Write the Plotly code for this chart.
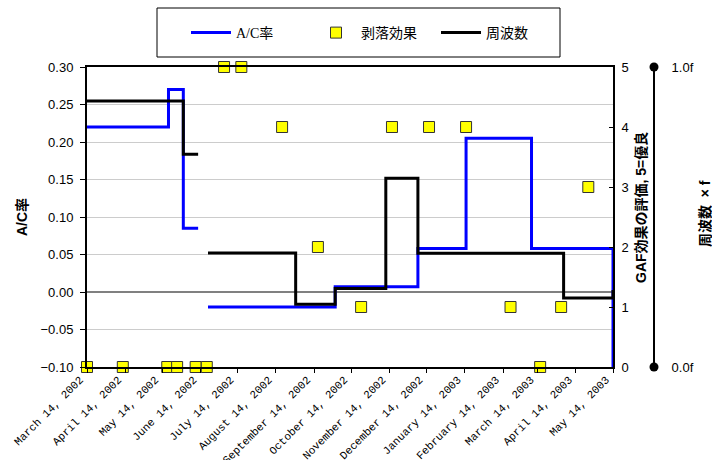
import plotly.graph_objects as go

# ---- data ----
ac_dates = ["2002-03-14", "2002-05-19", "2002-05-31", "2002-06-12", None,
            "2002-06-20", "2002-10-01", "2002-12-07", "2003-01-15", "2003-03-09",
            "2003-05-14", "2003-05-14"]
ac_rate = [0.22, 0.27, 0.085, 0.085, None,
           -0.02, 0.007, 0.058, 0.205, 0.058, 0.058, -0.10]

freq_dates = ["2002-03-14", "2002-05-31", "2002-06-12", None,
              "2002-06-20", "2002-08-30", "2002-10-01", "2002-11-11", "2002-12-07",
              "2003-04-04", "2003-05-14", "2003-05-14"]
freq = [0.887, 0.709, 0.709, None,
        0.38, 0.209, 0.262, 0.629, 0.379, 0.23, 0.23, 0.257]

spall_dates = ["2002-03-14", "2002-04-12", "2002-05-18", "2002-05-26", "2002-06-10",
               "2002-06-19", "2002-07-03", "2002-07-17", "2002-08-19", "2002-09-17",
               "2002-10-22", "2002-11-16", "2002-12-16", "2003-01-15", "2003-02-20",
               "2003-03-16", "2003-04-02", "2003-04-24"]
spall_score = [0, 0, 0, 0, 0, 0, 5, 5, 4, 2, 1, 4, 4, 4, 1, 0, 1, 3]

tick_dates = ["2002-03-14", "2002-04-14", "2002-05-14", "2002-06-14", "2002-07-14",
              "2002-08-14", "2002-09-14", "2002-10-14", "2002-11-14", "2002-12-14",
              "2003-01-14", "2003-02-14", "2003-03-14", "2003-04-14", "2003-05-14"]
tick_labels = ["March 14, 2002", "April 14, 2002", "May 14, 2002", "June 14, 2002",
               "July 14, 2002", "August 14, 2002", "September 14, 2002",
               "October 14, 2002", "November 14, 2002", "December 14, 2002",
               "January 14, 2003", "February 14, 2003", "March 14, 2003",
               "April 14, 2003", "May 14, 2003"]

# ---- geometry ----
W, H = 712, 460
L, T, B = 87, 67, 93
paper_w = W - L          # right margin 0
plot_w = 613 - L
xdom = plot_w / paper_w
def px(x):
    return (x - L) / paper_w
def py(y):
    return (367 - y) / 300
ax3_pos = px(654)

sans = "Liberation Sans, Arial, Noto Sans CJK JP"
cjk = "Liberation Sans, Noto Sans CJK JP"

fig = go.Figure()
fig.add_trace(go.Scatter(x=ac_dates, y=ac_rate, name="A/C率", mode="lines",
                         line=dict(color="#0000ff", width=3, shape="hv"),
                         connectgaps=False, yaxis="y", legendrank=1))
fig.add_trace(go.Scatter(x=freq_dates, y=freq, name="周波数", mode="lines",
                         line=dict(color="#000000", width=3, shape="hv"),
                         connectgaps=False, yaxis="y3", legendrank=3))
fig.add_trace(go.Scatter(x=spall_dates, y=spall_score, name="剥落効果", mode="markers",
                         marker=dict(symbol="square", size=11, color="#ffff00",
                                     line=dict(color="#333333", width=1)),
                         yaxis="y2", cliponaxis=False, legendrank=2))

fig.update_layout(
    width=W, height=H,
    margin=dict(l=L, r=0, t=T, b=B, autoexpand=False),
    paper_bgcolor="white", plot_bgcolor="white",
    font=dict(family=sans, size=12, color="black"),
    showlegend=True,
    legend=dict(orientation="h", x=px(186), xanchor="left", y=py(33),
                yanchor="middle", borderwidth=0, bgcolor="rgba(0,0,0,0)",
                font=dict(family="Liberation Serif, Noto Sans CJK JP", size=14),
                entrywidth=70, itemwidth=40),
    xaxis=dict(type="date", domain=[0, xdom], automargin=False,
               range=["2002-03-14", "2003-05-14"],
               tickvals=tick_dates, ticktext=tick_labels, tickangle=-45,
               tickfont=dict(family="Liberation Mono, Courier New", size=11),
               ticklabelshift=-7, ticklabelstandoff=-4,
               ticks="outside", ticklen=4, tickcolor="black",
               showline=True, linecolor="black", linewidth=2, mirror=True,
               showgrid=False, zeroline=False),
    yaxis=dict(range=[-0.1, 0.3], dtick=0.05, tickformat=".2f", automargin=False,
               ticks="outside", ticklen=5, tickcolor="black",
               tickfont=dict(size=13), ticklabelstandoff=4,
               showline=True, linecolor="black", linewidth=2,
               showgrid=True, gridcolor="#cccccc", gridwidth=1,
               zeroline=True, zerolinecolor="#808080", zerolinewidth=2),
    yaxis2=dict(range=[0, 5], dtick=1, overlaying="y", side="right", anchor="x",
                automargin=False,
                ticks="inside", ticklen=4, tickcolor="black",
                tickfont=dict(size=13), ticklabelstandoff=4,
                showline=True, linecolor="black", linewidth=2,
                showgrid=False, zeroline=False),
    yaxis3=dict(range=[0, 1], overlaying="y", side="right", anchor="free",
                automargin=False,
                position=ax3_pos, tickvals=[0, 1], ticktext=["0.0f", "1.0f"],
                ticks="outside", ticklen=14, tickcolor="rgba(0,0,0,0)",
                tickfont=dict(family="Liberation Sans", size=13),
                showline=True, linecolor="black", linewidth=2,
                showgrid=False, zeroline=False),
    annotations=[
        dict(text="<b>A/C率</b>", x=px(22), y=0.5, xref="paper", yref="paper",
             textangle=-90, showarrow=False, font=dict(family=cjk, size=14),
             xanchor="center", yanchor="middle"),
        dict(text="<b>GAF効果の評価, 5=優良</b>", x=px(641), y=py(208),
             xref="paper", yref="paper", textangle=-90, showarrow=False,
             font=dict(family=cjk, size=14), xanchor="center", yanchor="middle"),
        dict(text="<b>周波数  × f</b>", x=px(705), y=py(214),
             xref="paper", yref="paper", textangle=-90, showarrow=False,
             font=dict(family=cjk, size=14), xanchor="center", yanchor="middle"),
    ],
    shapes=[
        dict(type="rect", xref="paper", yref="paper", x0=px(157), x1=px(560),
             y0=py(57), y1=py(8), line=dict(color="black", width=1),
             fillcolor="rgba(0,0,0,0)"),
        dict(type="circle", xref="paper", yref="paper", xsizemode="pixel",
             ysizemode="pixel", xanchor=ax3_pos, yanchor=1, x0=-4.5, x1=4.5,
             y0=-4.5, y1=4.5, fillcolor="black", line=dict(color="black", width=0)),
        dict(type="circle", xref="paper", yref="paper", xsizemode="pixel",
             ysizemode="pixel", xanchor=ax3_pos, yanchor=0, x0=-4.5, x1=4.5,
             y0=-4.5, y1=4.5, fillcolor="black", line=dict(color="black", width=0)),
    ],
)

fig.write_html("out.html")
